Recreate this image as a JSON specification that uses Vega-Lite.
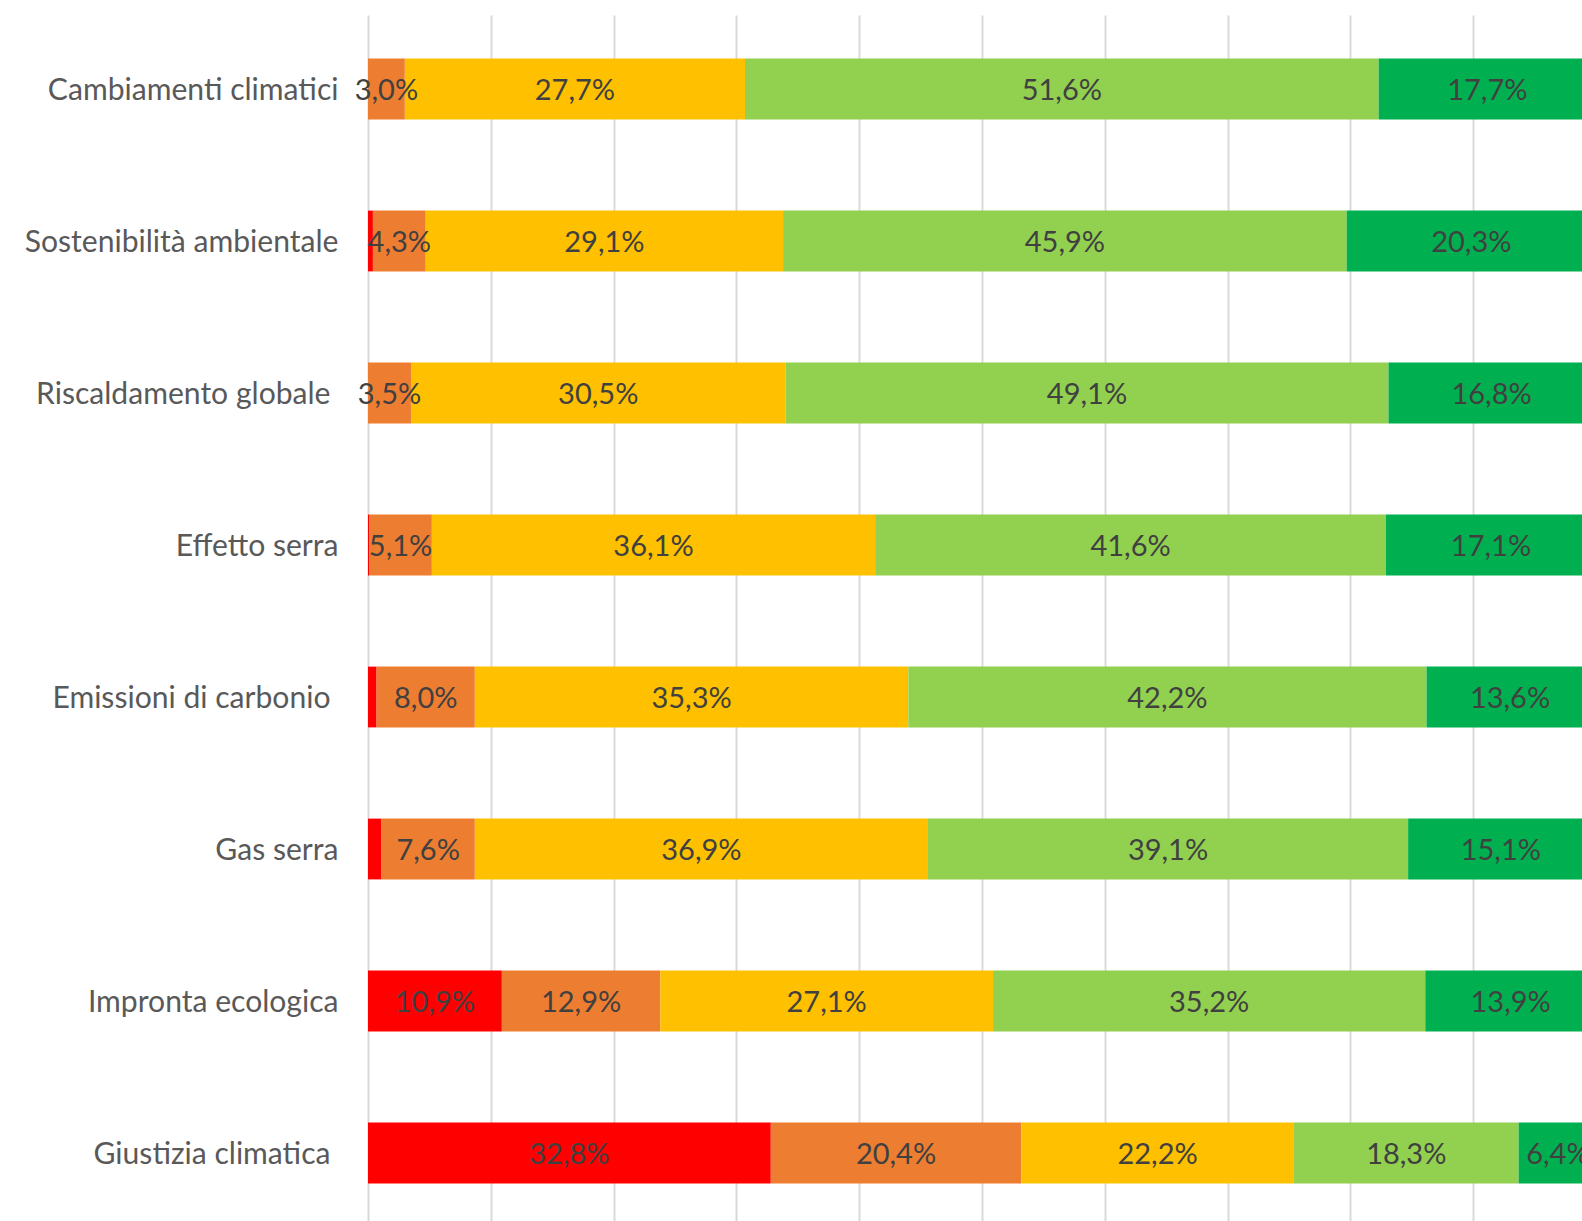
{
  "$schema": "https://vega.github.io/schema/vega-lite/v6.json",
  "width": 1214,
  "height": 1206,
  "autosize": {"type": "none"},
  "padding": {"left": 368, "top": 15, "right": 0, "bottom": 0},
  "background": "white",
  "data": {
    "values": [
      {"item": "Cambiamenti climatici", "cat": "Per niente", "k": 1, "v": 0.0},
      {"item": "Cambiamenti climatici", "cat": "Poco", "k": 2, "v": 0.030},
      {"item": "Cambiamenti climatici", "cat": "Abbastanza", "k": 3, "v": 0.277},
      {"item": "Cambiamenti climatici", "cat": "Molto", "k": 4, "v": 0.516},
      {"item": "Cambiamenti climatici", "cat": "Moltissimo", "k": 5, "v": 0.177},
      {"item": "Sostenibilità ambientale", "cat": "Per niente", "k": 1, "v": 0.004},
      {"item": "Sostenibilità ambientale", "cat": "Poco", "k": 2, "v": 0.043},
      {"item": "Sostenibilità ambientale", "cat": "Abbastanza", "k": 3, "v": 0.291},
      {"item": "Sostenibilità ambientale", "cat": "Molto", "k": 4, "v": 0.459},
      {"item": "Sostenibilità ambientale", "cat": "Moltissimo", "k": 5, "v": 0.203},
      {"item": "Riscaldamento globale", "cat": "Per niente", "k": 1, "v": 0.0},
      {"item": "Riscaldamento globale", "cat": "Poco", "k": 2, "v": 0.035},
      {"item": "Riscaldamento globale", "cat": "Abbastanza", "k": 3, "v": 0.305},
      {"item": "Riscaldamento globale", "cat": "Molto", "k": 4, "v": 0.491},
      {"item": "Riscaldamento globale", "cat": "Moltissimo", "k": 5, "v": 0.168},
      {"item": "Effetto serra", "cat": "Per niente", "k": 1, "v": 0.001},
      {"item": "Effetto serra", "cat": "Poco", "k": 2, "v": 0.051},
      {"item": "Effetto serra", "cat": "Abbastanza", "k": 3, "v": 0.361},
      {"item": "Effetto serra", "cat": "Molto", "k": 4, "v": 0.416},
      {"item": "Effetto serra", "cat": "Moltissimo", "k": 5, "v": 0.171},
      {"item": "Emissioni di carbonio", "cat": "Per niente", "k": 1, "v": 0.007},
      {"item": "Emissioni di carbonio", "cat": "Poco", "k": 2, "v": 0.080},
      {"item": "Emissioni di carbonio", "cat": "Abbastanza", "k": 3, "v": 0.353},
      {"item": "Emissioni di carbonio", "cat": "Molto", "k": 4, "v": 0.422},
      {"item": "Emissioni di carbonio", "cat": "Moltissimo", "k": 5, "v": 0.136},
      {"item": "Gas serra", "cat": "Per niente", "k": 1, "v": 0.011},
      {"item": "Gas serra", "cat": "Poco", "k": 2, "v": 0.076},
      {"item": "Gas serra", "cat": "Abbastanza", "k": 3, "v": 0.369},
      {"item": "Gas serra", "cat": "Molto", "k": 4, "v": 0.391},
      {"item": "Gas serra", "cat": "Moltissimo", "k": 5, "v": 0.151},
      {"item": "Impronta ecologica", "cat": "Per niente", "k": 1, "v": 0.109},
      {"item": "Impronta ecologica", "cat": "Poco", "k": 2, "v": 0.129},
      {"item": "Impronta ecologica", "cat": "Abbastanza", "k": 3, "v": 0.271},
      {"item": "Impronta ecologica", "cat": "Molto", "k": 4, "v": 0.352},
      {"item": "Impronta ecologica", "cat": "Moltissimo", "k": 5, "v": 0.139},
      {"item": "Giustizia climatica", "cat": "Per niente", "k": 1, "v": 0.328},
      {"item": "Giustizia climatica", "cat": "Poco", "k": 2, "v": 0.204},
      {"item": "Giustizia climatica", "cat": "Abbastanza", "k": 3, "v": 0.222},
      {"item": "Giustizia climatica", "cat": "Molto", "k": 4, "v": 0.183},
      {"item": "Giustizia climatica", "cat": "Moltissimo", "k": 5, "v": 0.064}
    ]
  },
  "encoding": {
    "y": {
      "field": "item",
      "type": "nominal",
      "sort": null,
      "title": null,
      "scale": {"paddingInner": 0.6, "paddingOuter": 0.267, "align": 0.537},
      "axis": {
        "domain": false,
        "ticks": false,
        "grid": false,
        "labelPadding": {
          "condition": {"test": "indexof(['Riscaldamento globale', 'Emissioni di carbonio', 'Giustizia climatica'], datum.value) >= 0", "value": 38},
          "value": 30
        },
        "labelOffset": 2,
        "labelFont": "Lato",
        "labelFontSize": 30.1,
        "labelColor": "#595959",
        "labelLimit": 500
      }
    },
    "order": {"field": "k", "type": "quantitative"}
  },
  "layer": [
    {
      "mark": {"type": "bar", "clip": true},
      "encoding": {
        "x": {
          "field": "v",
          "type": "quantitative",
          "stack": "zero",
          "title": null,
          "scale": {"domain": [0, 0.9886], "nice": false},
          "axis": {
            "values": [0, 0.1, 0.2, 0.3, 0.4, 0.5, 0.6, 0.7, 0.8, 0.9],
            "labels": false,
            "ticks": false,
            "domain": false,
            "grid": true,
            "gridColor": "#d9d9d9",
            "gridWidth": 2
          }
        },
        "color": {
          "field": "cat",
          "type": "nominal",
          "scale": {
            "domain": ["Per niente", "Poco", "Abbastanza", "Molto", "Moltissimo"],
            "range": ["#FF0000", "#ED7D31", "#FFC000", "#92D050", "#00B050"]
          },
          "legend": null
        }
      }
    },
    {
      "mark": {"type": "text", "font": "Lato", "fontSize": 29, "color": "#404040", "baseline": "middle", "align": "center", "dy": 2},
      "encoding": {
        "x": {"field": "v", "type": "quantitative", "stack": "zero", "bandPosition": 0.5},
        "detail": {"field": "cat"},
        "text": {
          "condition": {"test": "datum.v < 0.02", "value": ""},
          "field": "v",
          "type": "quantitative",
          "format": ".1%"
        }
      }
    }
  ],
  "config": {
    "view": {"stroke": null},
    "locale": {"number": {"decimal": ",", "thousands": ".", "grouping": [3], "currency": ["€", ""]}}
  }
}
